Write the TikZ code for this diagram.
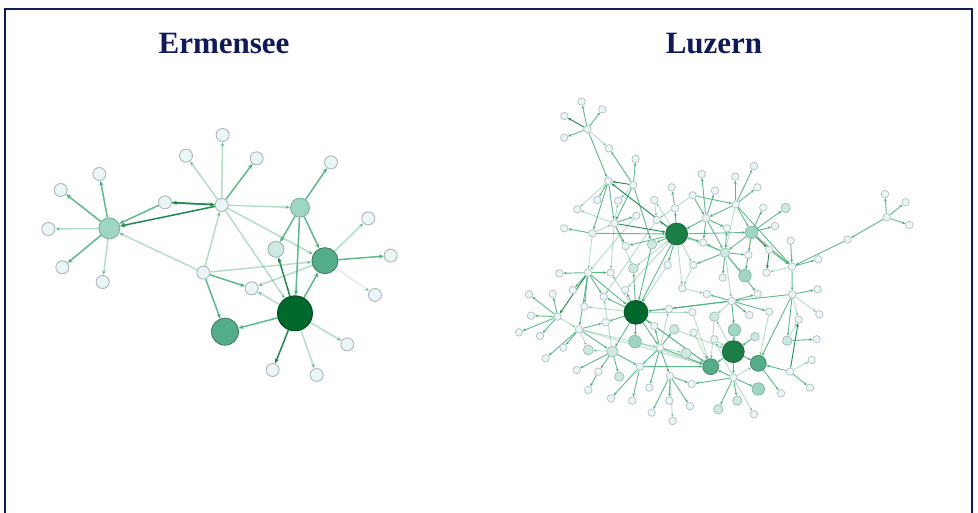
\documentclass[tikz,border=0pt]{standalone}
\usepackage{fontspec}
\setmainfont{Liberation Serif}
\usetikzlibrary{arrows.meta}

\definecolor{navy}{HTML}{0F1A5C}
\definecolor{gzero}{HTML}{EAF5F7}
\definecolor{gone}{HTML}{CDE9E3}
\definecolor{gtwo}{HTML}{9DD6C2}
\definecolor{gthree}{HTML}{52AD88}
\definecolor{gfour}{HTML}{1B7F45}
\definecolor{gfive}{HTML}{00692B}
\definecolor{bzero}{HTML}{AEB7BC}
\definecolor{bone}{HTML}{9CB5AE}
\definecolor{btwo}{HTML}{7DB09D}
\definecolor{bthree}{HTML}{3E8063}
\definecolor{bfour}{HTML}{145E34}
\definecolor{bfive}{HTML}{004B1D}
\definecolor{edgeg}{HTML}{41AE76}
\definecolor{edged}{HTML}{1E8A4C}

\pgfdeclarelayer{bg}
\pgfsetlayers{bg,main}

\tikzset{
	ttl/.style={text=navy, font=\bfseries\fontsize{31}{31}\selectfont, anchor=base, inner sep=0pt},
	dot/.style={circle, inner sep=0pt, minimum size=#1},
	dot0/.style={dot=#1, fill=gzero, draw=bzero},
	dot0/.default=7.5pt,
	dot1/.style={dot=#1, fill=gone, draw=bone},
	dot1/.default=9.5pt,
	dot2/.style={dot=#1, fill=gtwo, draw=btwo},
	dot2/.default=12.5pt,
	dot3/.style={dot=#1, fill=gthree, draw=bthree},
	dot3/.default=16pt,
	dot4/.style={dot=#1, fill=gfour, draw=bfour},
	dot4/.default=22pt,
	dot5/.style={dot=#1, fill=gfive, draw=bfive},
	dot5/.default=24pt,
	lnkfaint/.style={draw=edgeg, draw opacity=.4, ->},
	lnkmid/.style={draw=edgeg, draw opacity=.85, ->},
	lnkdark/.style={draw=edged, draw opacity=1, ->}
}

\begin{document}
\begin{tikzpicture}[x=1pt, y=-1pt]
	%%%%% START %%%%%
	
	\begin{pgfonlayer}{bg}
		\fill[white] (0,0) rectangle (978,512);
	\end{pgfonlayer}
	\useasboundingbox (0,0) rectangle (978,512);
	\draw[navy, line width=1.8pt] (5,514) -- (5,9) -- (972,9) -- (972,514);
	
	\node[ttl] (tErm) at (224,53.3) {Ermensee};
	\node[ttl] (tLuz) at (714,53.3) {Luzern};
	
	% Ermensee
	\begin{scope}[shift={(30,110)}, scale=0.3333, every edge/.append style={line width=1.5pt}, >={Stealth[length=5pt,width=4.2pt]}, every node/.append style={line width=0.9pt}]
		\node[dot0=13pt] (eA) at (575,285) {};
		\node[dot0=13pt] (eA1) at (578,75) {};
		\node[dot0=13pt] (eA2) at (468,137) {};
		\node[dot0=13pt] (eA3) at (680,145) {};
		\node[dot0=13pt] (eB) at (405,277) {};
		\node[dot2=21pt] (eC) at (238,355) {};
		\node[dot0=13pt] (eC1) at (208,192) {};
		\node[dot0=13pt] (eC2) at (92,240) {};
		\node[dot0=13pt] (eC3) at (55,357) {};
		\node[dot0=13pt] (eC4) at (97,472) {};
		\node[dot0=13pt] (eC5) at (218,516) {};
		\node[dot0=13pt] (eD) at (520,488) {};
		\node[dot0=13pt] (eE) at (665,535) {};
		\node[dot2=19pt] (eF) at (810,293) {};
		\node[dot0=13pt] (eF1) at (903,157) {};
		\node[dot1=16pt] (eG) at (738,418) {};
		\node[dot3=26pt] (eH) at (885,452) {};
		\node[dot0=13pt] (eH1) at (1015,325) {};
		\node[dot0=13pt] (eH2) at (1082,437) {};
		\node[dot0=13pt] (eH3) at (1035,555) {};
		\node[dot5=35pt] (eI) at (795,610) {};
		\node[dot3=27pt] (eJ) at (585,665) {};
		\node[dot0=13pt] (eI1) at (952,703) {};
		\node[dot0=13pt] (eI2) at (728,780) {};
		\node[dot0=13pt] (eI3) at (860,795) {};
		
		\begin{pgfonlayer}{bg}
			\path (eA) edge[lnkfaint] (eA1) edge[lnkfaint] (eA2) edge[lnkmid] (eA3) edge[lnkdark] (eB) edge[lnkdark] (eC)
				edge[lnkfaint] (eF) edge[lnkfaint] (eH) edge[lnkfaint] (eI);
			\path (eB) edge[lnkmid] (eC) edge[lnkdark] (eA);
			\path (eC) edge[lnkmid] (eC1) edge[lnkmid] (eC2) edge[lnkfaint] (eC3) edge[lnkmid] (eC4) edge[lnkfaint] (eC5);
			\path (eD) edge[lnkfaint] (eC) edge[lnkfaint] (eA) edge[lnkfaint] (eH) edge[lnkmid] (eE) edge[lnkmid] (eJ);
			\path (eF) edge[lnkmid] (eF1) edge[lnkmid] (eG) edge[lnkmid] (eH) edge[lnkmid] (eI);
			\path (eH) edge[lnkfaint] (eE) edge[lnkfaint] (eH1) edge[lnkmid] (eH2) edge[draw=edgeg, draw opacity=.18, ->] (eH3);
			\path (eI) edge[lnkdark] (eG) edge[lnkmid] (eH) edge[lnkfaint] (eE) edge[lnkmid] (eJ)
				edge[lnkfaint] (eI1) edge[lnkdark] (eI2) edge[lnkfaint] (eI3);
		\end{pgfonlayer}
	\end{scope}
	
	% Luzern
	\begin{scope}[shift={(500,90)}, scale=0.3333, every edge/.append style={line width=0.9pt}, >={Stealth[length=3.2pt,width=2.8pt]}, every node/.append style={line width=0.6pt}]
		\node[dot0] (l1) at (262,117) {};
		\node[dot0] (l2) at (245,35) {};
		\node[dot0] (l3) at (307,58) {};
		\node[dot0] (l4) at (193,78) {};
		\node[dot0] (l5) at (193,143) {};
		\node[dot0] (l6) at (327,175) {};
		\node[dot0] (l7) at (407,207) {};
		\node[dot0] (l8) at (325,273) {};
		\node[dot0] (l9) at (400,285) {};
		\node[dot0] (l10) at (515,292) {};
		\node[dot0] (l11) at (578,316) {};
		\node[dot0] (l12) at (605,252) {};
		\node[dot0] (l13) at (645,302) {};
		\node[dot0] (l14) at (706,260) {};
		\node[dot0] (l15) at (762,228) {};
		\node[dot0] (l16) at (772,292) {};
		\node[dot0] (l17) at (707,343) {};
		\node[dot0] (l18) at (292,330) {};
		\node[dot0] (l19) at (355,332) {};
		\node[dot0] (l20) at (463,330) {};
		\node[dot0] (l21) at (525,355) {};
		\node[dot0] (l22) at (232,358) {};
		\node[dot0] (l23) at (409,377) {};
		\node[dot0] (l24) at (343,400) {};
		\node[dot0] (l25) at (193,415) {};
		\node[dot0] (l26) at (277,430) {};
		\node[dot0] (l27) at (470,390) {};
		\node[dot0] (l28) at (618,385) {};
		\node[dot0] (l29) at (790,353) {};
		\node[dot1] (l30) at (857,354) {};
		\node[dot0] (l31) at (681,415) {};
		\node[dot2] (l32) at (755,427) {};
		\node[dot0] (l33) at (825,408) {};
		\node[dot4] (lA) at (530,432) {};
		\node[dot1] (l34) at (456,463) {};
		\node[dot0] (l35) at (377,468) {};
		\node[dot0] (l36) at (610,458) {};
		\node[dot1] (l37) at (675,488) {};
		\node[dot0] (l38) at (745,495) {};
		\node[dot0] (l39) at (808,480) {};
		\node[dot0] (l40) at (872,452) {};
		\node[dot0] (l41) at (503,525) {};
		\node[dot0] (l42) at (580,525) {};
		\node[dot1] (l43) at (400,535) {};
		\node[dot0] (l44) at (955,508) {};
		\node[dot0] (l45) at (876,530) {};
		\node[dot0] (l46) at (800,548) {};
		\node[dot2] (l47) at (735,557) {};
		\node[dot0] (l48) at (668,563) {};
		\node[dot0] (l49) at (1043,449) {};
		\node[dot0] (l50) at (1160,382) {};
		\node[dot0] (l51) at (1155,312) {};
		\node[dot0] (l52) at (1217,337) {};
		\node[dot0] (l53) at (1228,405) {};
		\node[dot0] (l54) at (178,550) {};
		\node[dot0] (l55) at (264,548) {};
		\node[dot0] (l56) at (332,548) {};
		\node[dot0] (l57) at (547,595) {};
		\node[dot0] (l58) at (620,612) {};
		\node[dot0] (l59) at (695,633) {};
		\node[dot0] (l60) at (773,612) {};
		\node[dot0] (l61) at (877,613) {};
		\node[dot0] (l62) at (953,598) {};
		\node[dot0] (l63) at (87,613) {};
		\node[dot0] (l64) at (158,612) {};
		\node[dot0] (l65) at (218,600) {};
		\node[dot0] (l66) at (311,620) {};
		\node[dot0] (l67) at (376,600) {};
		\node[dot0] (l68) at (93,677) {};
		\node[dot0] (l69) at (173,680) {};
		\node[dot0] (l70) at (253,650) {};
		\node[dot5] (lB) at (408,667) {};
		\node[dot0] (l71) at (507,657) {};
		\node[dot0] (l72) at (577,667) {};
		\node[dot1] (l73) at (643,680) {};
		\node[dot0] (l74) at (748,675) {};
		\node[dot0] (l75) at (808,665) {};
		\node[dot0] (l76) at (896,689) {};
		\node[dot0] (l77) at (958,673) {};
		\node[dot0] (l78) at (57,727) {};
		\node[dot0] (l79) at (120,738) {};
		\node[dot0] (l80) at (237,718) {};
		\node[dot0] (l81) at (317,697) {};
		\node[dot0] (l82) at (463,708) {};
		\node[dot1] (l83) at (523,718) {};
		\node[dot0] (l84) at (581,728) {};
		\node[dot2] (l85) at (703,720) {};
		\node[dot1=8.5pt] (l86) at (765,740) {};
		\node[dot1] (l87) at (862,752) {};
		\node[dot0] (l88) at (950,748) {};
		\node[dot0] (l89) at (190,773) {};
		\node[dot1=10pt] (l90) at (265,780) {};
		\node[dot1=11pt] (l91) at (337,785) {};
		\node[dot2] (l92) at (405,755) {};
		\node[dot0] (l93) at (480,773) {};
		\node[dot1=10.5pt] (l94) at (558,790) {};
		\node[dot0] (l95) at (643,748) {};
		\node[dot0] (l96) at (137,805) {};
		\node[dot0] (l97) at (935,810) {};
		\node[dot4] (lC) at (700,785) {};
		\node[dot3] (l98) at (632,830) {};
		\node[dot3] (l99) at (775,820) {};
		\node[dot0] (l100) at (230,840) {};
		\node[dot0] (l101) at (295,845) {};
		\node[dot1] (l102) at (358,860) {};
		\node[dot0] (l103) at (420,830) {};
		\node[dot0] (l104) at (510,858) {};
		\node[dot0] (l105) at (575,882) {};
		\node[dot0] (l106) at (700,863) {};
		\node[dot0] (l107) at (870,845) {};
		\node[dot2] (l108) at (775,897) {};
		\node[dot0] (l109) at (843,910) {};
		\node[dot0] (l110) at (930,893) {};
		\node[dot0] (l111) at (265,900) {};
		\node[dot0] (l112) at (333,925) {};
		\node[dot0] (l113) at (397,932) {};
		\node[dot0] (l114) at (448,893) {};
		\node[dot0] (l115) at (508,932) {};
		\node[dot0] (l116) at (570,948) {};
		\node[dot1] (l117) at (655,958) {};
		\node[dot1] (l118) at (712,932) {};
		\node[dot0] (l119) at (762,973) {};
		\node[dot0] (l120) at (455,968) {};
		\node[dot0] (l121) at (518,993) {};
		
		\begin{pgfonlayer}{bg}
			\path (l1) edge[lnkmid] (l2) edge[lnkmid] (l3) edge[lnkdark] (l4) edge[lnkmid] (l5) edge[lnkmid] (l8) edge[lnkfaint] (l6);
			\path (l9) edge[lnkmid] (l7) edge[lnkdark] (l8) edge[lnkmid] (l6) edge[lnkmid] (l34) edge[lnkfaint] (l19) edge[lnkmid] (l24);
			\path (lA) edge[lnkdark] (l8) edge[lnkmid] (l21) edge[lnkmid] (l35) edge[lnkmid] (l32) edge[lnkmid] (l36) edge[lnkmid] (l41)
				edge[lnkfaint] (l42) edge[lnkmid] (lB) edge[lnkfaint] (l57) edge[lnkfaint] (l27) edge[lnkfaint] (l20) edge[lnkmid] (l34)
				edge[lnkfaint] (l67) edge[lnkfaint] (l43);
			\path (l21) edge[lnkmid] (l10);
			\path (l8) edge[lnkmid] (l18) edge[lnkmid] (l24) edge[lnkmid] (l26) edge[lnkfaint] (l22);
			\path (l24) edge[lnkfaint] (l22) edge[lnkdark] (lA) edge[lnkmid] (l23) edge[lnkmid] (l35) edge[lnkfaint] (l43) edge[lnkfaint] (l19)
				edge[lnkfaint] (l56);
			\path (l26) edge[lnkmid] (l25) edge[lnkmid] (lA) edge[lnkfaint] (l55) edge[lnkfaint] (l24);
			\path (l20) edge[lnkfaint] (l27);
			\path (l23) edge[lnkfaint] (l55);
			\path (l27) edge[lnkfaint] (l66);
			\path (l34) edge[lnkmid] (lB);
			\path (l11) edge[lnkmid] (l28) edge[lnkmid] (l17) edge[lnkfaint] (l27);
			\path (l28) edge[lnkmid] (l12) edge[lnkmid] (l13) edge[lnkmid] (lA) edge[lnkmid] (l31) edge[lnkmid] (l36) edge[lnkmid] (l37);
			\path (l17) edge[lnkmid] (l14) edge[lnkmid] (l15) edge[lnkmid] (l16) edge[lnkmid] (l32) edge[lnkmid] (l45) edge[lnkmid] (l28) edge[lnkfaint] (l37);
			\path (l32) edge[lnkmid] (l30) edge[lnkmid] (l29) edge[lnkmid] (l33) edge[lnkdark] (l39) edge[lnkmid] (l45) edge[lnkmid] (l37)
				edge[lnkmid] (l47) edge[lnkfaint] (l38);
			\path (l37) edge[lnkmid] (l36) edge[lnkmid] (l38) edge[lnkmid] (l31) edge[lnkmid] (l48) edge[lnkmid] (l42) edge[lnkfaint] (l59)
				edge[lnkmid] (l60) edge[lnkfaint] (l47) edge[lnkfaint] (lA);
			\path (l39) edge[lnkdark] (l46) edge[lnkmid] (l45);
			\path (l40) edge[lnkmid] (l45);
			\path (l45) edge[lnkmid] (l44) edge[lnkmid] (l61) edge[lnkfaint] (l46);
			\path (l49) edge[lnkmid] (l45);
			\path (l50) edge[lnkmid] (l49) edge[lnkmid] (l51) edge[lnkmid] (l52) edge[lnkmid] (l53);
			\path (l61) edge[lnkmid] (l62) edge[lnkfaint] (l77) edge[lnkfaint] (l76) edge[lnkmid] (l59) edge[lnkmid] (l87) edge[lnkmid] (l99);
			\path (l59) edge[lnkmid] (lB) edge[lnkmid] (l71) edge[lnkmid] (l58) edge[lnkmid] (l60) edge[lnkmid] (l74) edge[lnkmid] (l75)
				edge[lnkfaint] (l73) edge[lnkmid] (l85);
			\path (l87) edge[lnkmid] (l88) edge[lnkfaint] (l76);
			\path (l107) edge[lnkdark] (l76) edge[lnkmid] (l110) edge[lnkmid] (l99) edge[lnkfaint] (l97);
			\path (lC) edge[lnkmid] (l106) edge[lnkmid] (l85) edge[lnkmid] (l98) edge[lnkmid] (l99) edge[lnkfaint] (l73);
			\path (l106) edge[lnkmid] (l98) edge[lnkfaint] (l99) edge[lnkmid] (l108) edge[lnkmid] (l117) edge[lnkmid] (l118)
				edge[lnkfaint] (l119) edge[lnkmid] (l105) edge[lnkfaint] (l95);
			\path (l99) edge[lnkmid] (l109);
			\path (lB) edge[lnkmid] (l67) edge[lnkmid] (l66) edge[lnkmid] (l81) edge[lnkmid] (l92) edge[lnkmid] (l93) edge[lnkmid] (l98)
				edge[lnkmid] (l82) edge[lnkfaint] (l70) edge[lnkmid] (l43) edge[lnkfaint] (l56) edge[lnkfaint] (l71) edge[lnkfaint] (l72) edge[lnkmid] (l91);
			\path (l55) edge[lnkmid] (l54) edge[lnkmid] (l56) edge[lnkmid] (l65) edge[lnkmid] (l66) edge[lnkmid] (l70) edge[lnkmid] (l80)
				edge[lnkmid] (lB) edge[lnkdark] (l69);
			\path (l69) edge[lnkmid] (l63) edge[lnkmid] (l64) edge[lnkmid] (l68) edge[lnkmid] (l78) edge[lnkmid] (l79) edge[lnkfaint] (l80);
			\path (l80) edge[lnkmid] (l89) edge[lnkmid] (l81) edge[lnkmid] (l91) edge[lnkmid] (l96) edge[lnkfaint] (l93) edge[lnkfaint] (l98) edge[lnkfaint] (l90);
			\path (l91) edge[lnkmid] (l100) edge[lnkmid] (l101) edge[lnkmid] (l102) edge[lnkfaint] (l90) edge[lnkfaint] (l66) edge[lnkmid] (l103);
			\path (l93) edge[lnkmid] (l114) edge[lnkmid] (l104) edge[lnkmid] (l98) edge[lnkmid] (l103) edge[lnkmid] (l83) edge[lnkmid] (l82)
				edge[lnkfaint] (l71) edge[lnkfaint] (l94);
			\path (l103) edge[lnkmid] (l113) edge[lnkmid] (l112) edge[lnkmid] (l98);
			\path (l104) edge[lnkmid] (l115) edge[lnkmid] (l116) edge[lnkmid] (l120) edge[lnkfaint] (l121) edge[lnkmid] (l105);
			\path (l101) edge[lnkmid] (l111);
			\path (l42) edge[lnkfaint] (l57);
			\path (l57) edge[lnkfaint] (l58);
			\path (l86) edge[lnkmid] (lC);
			\path (l95) edge[lnkfaint] (lC);
			\path (l84) edge[lnkfaint] (l98);
			\path (l41) edge[lnkfaint] (lB);
			\path (l72) edge[lnkfaint] (l98);
			\path (l75) edge[lnkfaint] (l99);
			\path (l82) edge[lnkfaint] (l98);
			\path (l92) edge[lnkfaint] (l98);
			\path (l83) edge[lnkfaint] (lC);
			\path (l73) edge[lnkfaint] (l98);
		\end{pgfonlayer}
	\end{scope}
	
	%%%%% END %%%%%
\end{tikzpicture}
\end{document}
